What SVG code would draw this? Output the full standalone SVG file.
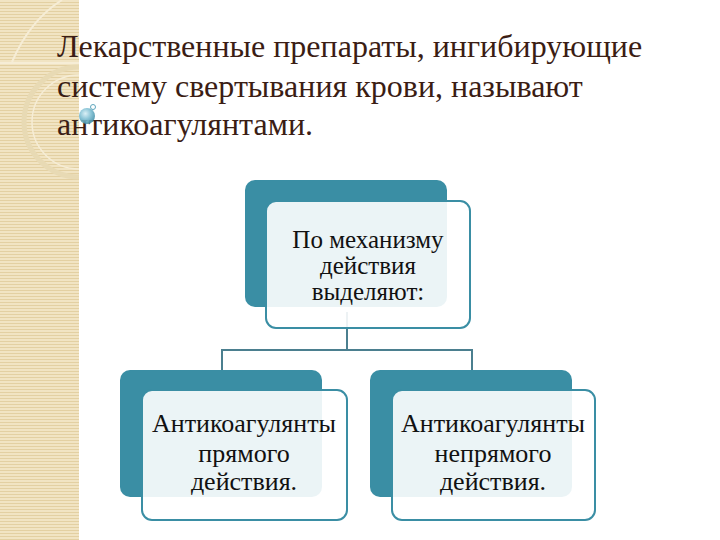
<svg xmlns="http://www.w3.org/2000/svg" width="720" height="540" viewBox="0 0 720 540">
<defs>
<pattern id="stripes" width="6" height="3" patternUnits="userSpaceOnUse">
<rect width="6" height="3" fill="#f1e4c3"/>
<rect y="2" width="6" height="1" fill="#e3d0a2"/>
</pattern>
<radialGradient id="ball" cx="0.4" cy="0.35" r="0.7">
<stop offset="0" stop-color="#d6eef5"/>
<stop offset="0.5" stop-color="#7fbfd3"/>
<stop offset="1" stop-color="#3d8aa3"/>
</radialGradient>
<style>
.title{font-family:"Liberation Serif","Times New Roman",serif;font-size:32px;fill:#3b1d14}
.lbl{font-family:"Liberation Serif","Times New Roman",serif;font-size:25px;fill:#111;text-anchor:middle}
.lbl2{font-family:"Liberation Serif","Times New Roman",serif;font-size:26px;fill:#111;text-anchor:middle}
.back{fill:#3a8ea4}
.front{fill:#ffffff;fill-opacity:0.9;stroke:#3a8ea4;stroke-width:2}
.conn{fill:none;stroke:#4b7f8f;stroke-width:2}
</style>
</defs>
<rect width="720" height="540" fill="#ffffff"/>
<g id="sidebar">
<rect x="0" y="0" width="79" height="540" fill="url(#stripes)"/>
<path d="M62 0 Q30 20 12 62" fill="none" stroke="#f6edd6" stroke-width="2"/>
<line x1="0" y1="63" x2="79" y2="63" stroke="#f6edd6" stroke-width="2"/>
<path d="M79 67 A55 55 0 0 0 79 177" fill="none" stroke="#e8dab4" stroke-width="5"/>
<path d="M79 75 A47 47 0 0 0 79 169" fill="none" stroke="#f6edd6" stroke-width="1.5"/>
</g>
<g id="title">
<text class="title" x="57" y="57">Лекарственные препараты, ингибирующие</text>
<text class="title" x="57" y="97">систему свертывания крови, называют</text>
<text class="title" x="57" y="135">антикоагулянтами.</text>
</g>
<g id="bubble">
<circle cx="87" cy="116" r="8" fill="url(#ball)" opacity="0.9"/>
<circle cx="93" cy="107" r="2.5" fill="#ffffff" stroke="#5fa6bd" stroke-width="1"/>
</g>
<g id="connectors">
<path class="conn" d="M347 312 V350 M222 370 V350 H472 V370"/>
</g>
<g id="node-top">
<rect class="back" x="245" y="180" width="202" height="127" rx="10"/>
<rect class="front" x="266" y="201" width="204" height="127" rx="10"/>
<text class="lbl" x="368" y="248">По механизму</text>
<text class="lbl" x="368" y="274">действия</text>
<text class="lbl" x="368" y="300">выделяют:</text>
</g>
<g id="node-direct">
<rect class="back" x="120" y="370" width="202" height="127" rx="10"/>
<rect class="front" x="142" y="390" width="205" height="130" rx="10"/>
<text class="lbl2" x="244" y="432">Антикоагулянты</text>
<text class="lbl2" x="244" y="462">прямого</text>
<text class="lbl2" x="244" y="490">действия.</text>
</g>
<g id="node-indirect">
<rect class="back" x="370" y="370" width="202" height="127" rx="10"/>
<rect class="front" x="392" y="390" width="203" height="130" rx="10"/>
<text class="lbl2" x="493" y="432">Антикоагулянты</text>
<text class="lbl2" x="493" y="462">непрямого</text>
<text class="lbl2" x="493" y="490">действия.</text>
</g>
</svg>
